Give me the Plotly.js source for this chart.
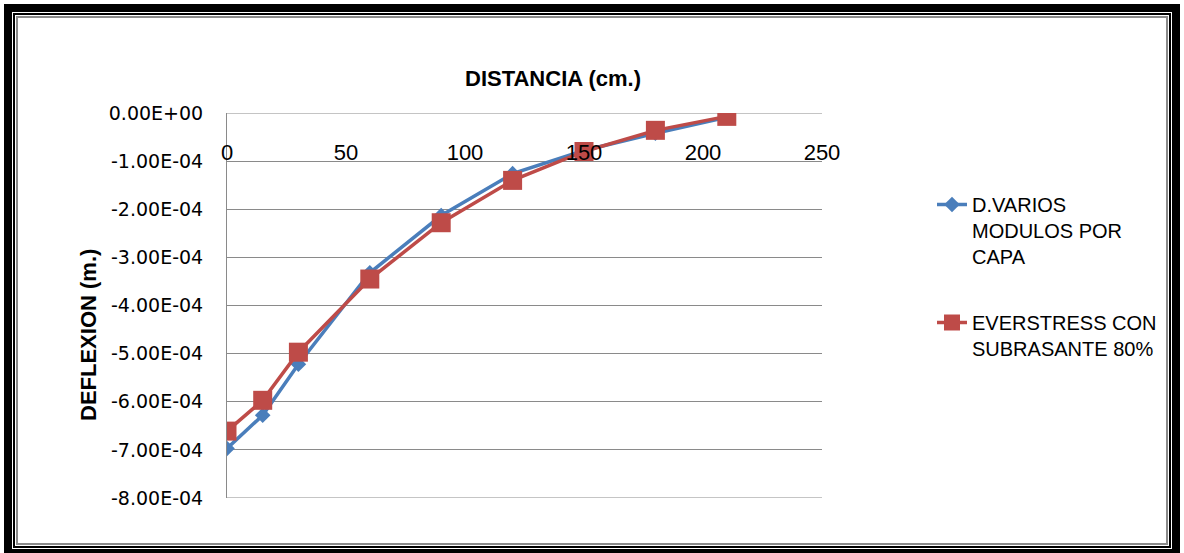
<!DOCTYPE html>
<html>
<head>
<meta charset="utf-8">
<script src="https://cdn.plot.ly/plotly-3.0.1.min.js"></script>
<style>
  html, body { margin:0; padding:0; background:#fff; width:1184px; height:553px; overflow:hidden; }
  #f1 { position:absolute; left:4px; top:4px; width:1176px; height:553px; box-sizing:border-box; border:8px solid #000; }
  #f2 { position:absolute; left:1px; top:1px; right:1px; bottom:1px; border:2px solid #000; }
  #f3 { position:absolute; left:1px; top:1px; right:1px; bottom:1px; border:2px solid #8a8a8a; }
  #chart { position:absolute; left:0; top:0; width:1184px; height:553px; }
</style>
</head>
<body>
<div id="f1"><div id="f2"><div id="f3"></div></div></div>
<div id="chart"></div>
<script>
// Data
const distancia = [0, 15, 30, 60, 90, 120, 150, 180, 210];
const deflexionVarios = [-6.97e-4, -6.28e-4, -5.22e-4, -3.32e-4, -2.13e-4, -1.26e-4, -0.78e-4, -0.42e-4, -0.09e-4];
const deflexionEverstress = [-6.61e-4, -5.97e-4, -4.97e-4, -3.45e-4, -2.28e-4, -1.40e-4, -0.80e-4, -0.36e-4, -0.07e-4];
const xTickVals = [0, 50, 100, 150, 200, 250];
const xTickText = ['0', '50', '100', '150', '200', '250'];
const yTickVals = [0, -1e-4, -2e-4, -3e-4, -4e-4, -5e-4, -6e-4, -7e-4, -8e-4];
const yTickText = ['0.00E+00', '-1.00E-04', '-2.00E-04', '-3.00E-04', '-4.00E-04', '-5.00E-04', '-6.00E-04', '-7.00E-04', '-8.00E-04'];
const seriesNames = ['D.VARIOS<br>MODULOS POR<br>CAPA', 'EVERSTRESS CON<br>SUBRASANTE 80%'];

const gridColor = '#8a8a8a';

const traces = [
  {
    x: distancia, y: deflexionVarios, name: seriesNames[0], legendgroup: 'a',
    type: 'scatter', mode: 'lines+markers',
    line: {color: '#4a7ebb', width: 3.5},
    marker: {symbol: 'diamond', size: 12, color: '#4a7ebb'}
  },
  {
    x: distancia, y: deflexionEverstress, name: seriesNames[1], legendgroup: 'b',
    type: 'scatter', mode: 'lines+markers',
    line: {color: '#be4b48', width: 3.5},
    marker: {symbol: 'square', size: 19, color: '#be4b48'}
  }
];

// edge gridlines (top and bottom of the value range)
const edgeLines = [yTickVals[0], yTickVals[yTickVals.length - 1]].map(v => ({
  type: 'line', xref: 'paper', x0: 0, x1: 1, yref: 'y', y0: v, y1: v,
  line: {color: gridColor, width: 1}, layer: 'below'
}));

const layout = {
  width: 1184, height: 553,
  paper_bgcolor: 'rgba(0,0,0,0)', plot_bgcolor: 'rgba(0,0,0,0)',
  margin: {l: 227, r: 362, t: 113, b: 55},
  showlegend: true,
  title: {
    text: '<b>DISTANCIA (cm.)</b>',
    font: {family: 'Liberation Sans', size: 22, color: '#000'},
    x: 553/1184, xref: 'container', xanchor: 'center',
    y: 1 - 78/553, yref: 'container', yanchor: 'middle'
  },
  xaxis: {
    range: [0, 250], tickvals: xTickVals, ticktext: xTickText,
    anchor: 'free', position: 1, side: 'bottom',
    showgrid: false, zeroline: false, showline: false, ticks: '',
    ticklabelstandoff: 24,
    tickfont: {family: 'Liberation Sans', size: 22, color: '#000'}
  },
  yaxis: {
    range: [-8e-4, 0], tickvals: yTickVals, ticktext: yTickText,
    showgrid: true, gridcolor: gridColor, gridwidth: 1,
    zeroline: false, showline: true, linecolor: gridColor, linewidth: 1,
    ticks: '', ticklabelstandoff: 19,
    tickfont: {family: 'DejaVu Sans', size: 19, color: '#000'}
  },
  shapes: edgeLines,
  legend: {
    x: (932 - 227) / 595, xanchor: 'left',
    y: (498 - 185) / 385, yanchor: 'top',
    font: {family: 'Liberation Sans', size: 20, color: '#000'},
    valign: 'top', traceorder: 'grouped', tracegroupgap: 37,
    bgcolor: 'rgba(0,0,0,0)'
  },
  annotations: [{
    text: '<b>DEFLEXION (m.)</b>', textangle: -90,
    xref: 'paper', yref: 'paper',
    x: (88 - 227) / 595, y: (498 - 335) / 385,
    xanchor: 'center', yanchor: 'middle', showarrow: false,
    font: {family: 'Liberation Sans', size: 22, color: '#000'}
  }]
};

Plotly.newPlot('chart', traces, layout, {displayModeBar: false, staticPlot: true});
</script>
</body>
</html>
